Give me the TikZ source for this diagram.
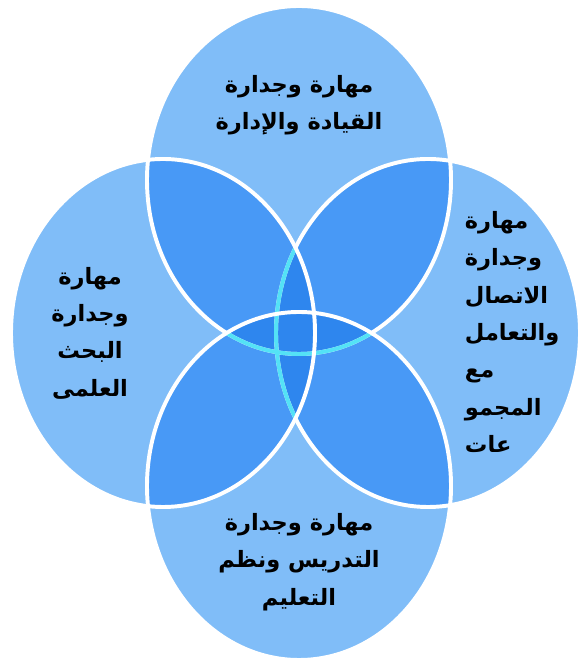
\documentclass[tikz,border=0pt]{standalone}
\usepackage{fontspec}
\newfontfamily\arabicfont[Script=Arabic]{DejaVu Sans}
\TeXXeTstate=1
\newcommand{\artext}[1]{\beginR #1\endR}
\definecolor{lightfill}{RGB}{128,189,248}
\definecolor{petalfill}{RGB}{72,153,246}
\definecolor{corefill}{RGB}{46,134,238}
\definecolor{rimcyan}{RGB}{84,226,246}

\begin{document}
\begin{tikzpicture}[x=0.025cm, y=0.025cm,
    rim/.style={white, line width=2.8pt},
    lbl/.style={font=\arabicfont\bfseries\fontsize{16}{26.5}\selectfont, align=center}]
    \useasboundingbox (0,0) rectangle (582,663);
    % four overlapping ellipses
    \def\topE{(299,483) ellipse [x radius=152, y radius=174]}
    \def\bottomE{(299,177) ellipse [x radius=152, y radius=174]}
    \def\leftE{(163,330) ellipse [x radius=152, y radius=174]}
    \def\rightE{(428,330) ellipse [x radius=152, y radius=174]}
    \fill[lightfill] \topE;
    \fill[lightfill] \bottomE;
    \fill[lightfill] \leftE;
    \fill[lightfill] \rightE;
    % petals where two ellipses meet
    \begin{scope} \clip \topE; \fill[petalfill] \leftE; \fill[petalfill] \rightE; \end{scope}
    \begin{scope} \clip \bottomE; \fill[petalfill] \leftE; \fill[petalfill] \rightE; \end{scope}
    % middle lenses
    \begin{scope} \clip \leftE; \fill[corefill] \rightE; \end{scope}
    \begin{scope} \clip \topE; \fill[corefill] \bottomE; \end{scope}
    % outlines
    \draw[rim] \topE;
    \draw[rim] \rightE;
    \begin{scope} \clip \bottomE; \draw[rim, rimcyan] \topE; \end{scope}
    \begin{scope} \clip \leftE; \draw[rim, rimcyan] \rightE; \end{scope}
    \draw[rim] \bottomE;
    \draw[rim] \leftE;
    % labels
    \node[lbl] (lead) at (299,558) {\artext{مهارة وجدارة}\\\artext{القيادة والإدارة}};
    \node[lbl] (research) at (90,330) {\artext{مهارة}\\\artext{وجدارة}\\\artext{البحث}\\\artext{العلمى}};
    \node[lbl, align=left, anchor=west] (comm) at (460,331) {\artext{مهارة}\\\artext{وجدارة}\\\artext{الاتصال}\\\artext{والتعامل}\\\artext{مع}\\\artext{المجمو}\\\artext{عات}};
    \node[lbl] (teach) at (299,101) {\artext{مهارة وجدارة}\\\artext{التدريس ونظم}\\\artext{التعليم}};
\end{tikzpicture}
\end{document}
